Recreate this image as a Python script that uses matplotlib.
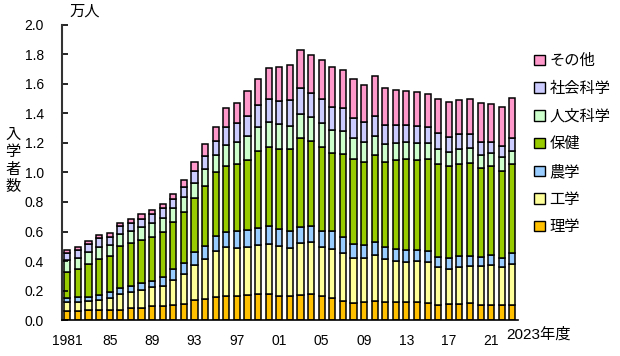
import numpy as np
import matplotlib
matplotlib.use("Agg")
import matplotlib.pyplot as plt
from matplotlib.patches import Patch

plt.rcParams['font.family'] = ['Liberation Sans', 'Noto Sans CJK JP']

years = list(range(1981, 2024))

# 万人
rigaku = [.063, .061, .066, .068, .068, .068, .084, .081, .095, .095, .102, .106, .136, .140, .158,
          .165, .165, .169, .176, .176, .163, .163, .167, .176, .163, .147, .131, .118, .122, .127,
          .124, .120, .120, .120, .115, .104, .108, .106, .113, .104, .104, .102, .104]
kogaku = [.059, .061, .063, .068, .083, .106, .104, .122, .126, .138, .169, .204, .237, .271, .312,
          .328, .323, .328, .330, .339, .339, .325, .353, .353, .330, .337, .325, .300, .298, .311,
          .287, .280, .275, .280, .276, .255, .240, .256, .251, .262, .269, .255, .273]
nogaku = [.029, .036, .029, .033, .037, .045, .042, .050, .046, .061, .072, .074, .090, .091, .099,
          .104, .115, .113, .120, .125, .117, .115, .113, .108, .113, .117, .104, .097, .088, .093,
          .086, .079, .080, .075, .075, .070, .070, .070, .068, .063, .070, .066, .075]
hoken = [.177, .190, .222, .247, .246, .283, .290, .289, .298, .305, .324, .350, .362, .406, .431,
         .449, .452, .475, .520, .535, .540, .556, .603, .579, .569, .529, .565, .577, .560, .589,
         .576, .606, .614, .610, .623, .626, .628, .628, .630, .599, .603, .588, .603]
jinbun = [.079, .070, .083, .081, .074, .081, .083, .086, .090, .090, .090, .102, .102, .114, .119,
          .138, .150, .162, .160, .170, .168, .159, .161, .163, .163, .158, .156, .144, .137, .130,
          .120, .117, .119, .117, .109, .104, .095, .097, .106, .091, .088, .092, .093]
shakai = [.049, .057, .052, .057, .057, .054, .052, .054, .061, .068, .061, .068, .085, .090, .097,
          .122, .133, .136, .152, .156, .158, .174, .174, .162, .160, .154, .154, .131, .135, .133,
          .129, .120, .117, .113, .108, .107, .097, .102, .091, .086, .075, .077, .088]
sonota = [.019, .017, .018, .022, .023, .023, .027, .034, .030, .027, .036, .045, .061, .078, .095,
          .134, .135, .172, .176, .206, .233, .237, .257, .258, .262, .276, .260, .265, .256, .269,
          .253, .239, .229, .233, .226, .235, .242, .233, .242, .268, .258, .262, .269]

labels = ['理学', '工学', '農学', '保健', '人文科学', '社会科学', 'その他']
colors = ['#FFC000', '#FFFF99', '#99CCFF', '#99CC00', '#CCFFCC', '#CCCCFF', '#FF99CC']
series = [rigaku, kogaku, nogaku, hoken, jinbun, shakai, sonota]

tick_years = [1981, 1985, 1989, 1993, 1997, 2001, 2005, 2009, 2013, 2017, 2021]

fig = plt.figure(figsize=(6.2, 3.56), dpi=100)
ax = fig.add_axes([0.1, 0.101, 0.735, 0.829])

x = np.arange(len(years))
bottom = np.zeros(len(years))
for vals, lab, col in zip(series, labels, colors):
    ax.bar(x, vals, width=0.58, bottom=bottom, color=col, edgecolor='black',
           linewidth=1.1, label=lab)
    bottom += np.array(vals)

ax.set_xlim(-0.5, len(years) - 0.5)
ax.set_ylim(0, 2.0)
ax.set_yticks(np.arange(0, 2.01, 0.2))
ax.set_yticklabels([f'{v:.1f}' for v in np.arange(0, 2.01, 0.2)])
ax.tick_params(axis='y', direction='in', length=4, width=1.2, pad=13, labelsize=10)

xt = [years.index(y) for y in tick_years]
ax.set_xticks(xt)
ax.set_xticklabels(['1981'] + [f'{y % 100:02d}' for y in tick_years[1:]])
ax.tick_params(axis='x', length=0, pad=10, labelsize=10)
ax.text(len(years) - 1.6, -0.1, '2023年度', ha='left', va='center', fontsize=11,
        transform=ax.transData, clip_on=False)

for s in ['top', 'right']:
    ax.spines[s].set_visible(False)
ax.spines['left'].set_color('#333333')
ax.spines['left'].set_linewidth(1.5)
ax.spines['bottom'].set_linewidth(1.2)

fig.text(85 / 620, 1 - 12 / 356, '万人', ha='center', va='center', fontsize=11)
fig.text(13 / 620, 1 - 161 / 356, '入\n学\n者\n数', ha='center', va='center',
         fontsize=11, linespacing=1.3)

handles = [Patch(facecolor=c, edgecolor='black', linewidth=1.0) for c in colors]
fig.legend(handles[::-1], labels[::-1], loc='upper left', bbox_to_anchor=(0.852, 0.865),
           frameon=False, fontsize=11, handlelength=0.7, handleheight=0.7,
           handletextpad=0.3, labelspacing=0.88, borderaxespad=0)

fig.savefig('out.png', dpi=100)
